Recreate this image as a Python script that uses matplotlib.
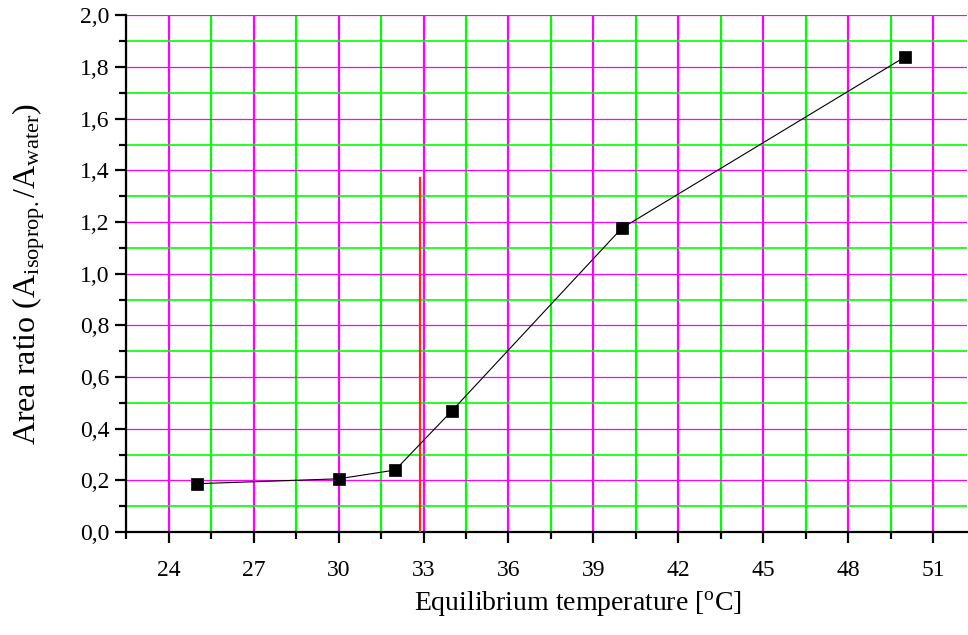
import matplotlib
matplotlib.use("Agg")
import matplotlib.pyplot as plt
from matplotlib.ticker import MultipleLocator, FuncFormatter

plt.rcParams['font.family'] = ['Liberation Serif', 'DejaVu Serif']
plt.rcParams['mathtext.fontset'] = 'custom'
plt.rcParams['mathtext.rm'] = 'Liberation Serif'
plt.rcParams['mathtext.it'] = 'Liberation Serif:italic'

temperature = [25, 30, 32, 34, 40, 50]
area_ratio = [0.187, 0.206, 0.24, 0.469, 1.176, 1.839]
marker_x = [32.88, 32.88]
marker_y = [0.0, 1.37]

fig = plt.figure(figsize=(9.68, 6.35), dpi=100)
ax = fig.add_axes([0.1305, 0.1622, 0.8685, 0.8134])

ax.set_xlim(22.5, 52.2)
ax.set_ylim(0.0, 2.0)

ax.xaxis.set_major_locator(MultipleLocator(3))
ax.xaxis.set_minor_locator(MultipleLocator(1.5))
ax.yaxis.set_major_locator(MultipleLocator(0.2))
ax.yaxis.set_minor_locator(MultipleLocator(0.1))
ax.yaxis.set_major_formatter(FuncFormatter(lambda v, p: f"{v:.1f}".replace('.', ',')))
ax.xaxis.set_major_formatter(FuncFormatter(lambda v, p: f"{int(round(v))}"))

ax.set_axisbelow(True)
ax.grid(which='major', axis='x', color='#FF00FF', lw=1.6)
ax.grid(which='minor', axis='x', color='#00FF00', lw=1.6)
ax.grid(which='major', axis='y', color='#FF00FF', lw=0.9)
ax.grid(which='minor', axis='y', color='#00FF00', lw=1.2)

ax.plot(marker_x, marker_y, color='#FF2A1A', lw=1.6, zorder=3)
ax.plot(temperature, area_ratio, color='black', lw=0.8, zorder=4)
ax.plot(temperature, area_ratio, ls='none', marker='s', ms=8, mfc='black',
        mec='black', mew=0.5, zorder=5)

for s in ['top', 'right']:
    ax.spines[s].set_visible(False)
for s in ['left', 'bottom']:
    ax.spines[s].set_linewidth(1.6)

ax.tick_params(which='major', direction='out', length=8, width=1.6,
               labelsize=17, pad=12)
ax.tick_params(which='minor', direction='out', length=5, width=1.6)
ax.tick_params(axis='y', which='major', pad=4)

ax.set_xlabel(r'Equilibrium temperature [$^{\mathrm{o}}$C]', fontsize=20)
ax.xaxis.set_label_coords(0.537, -0.11)
ax.set_ylabel(r'Area ratio (A$_{\mathrm{isoprop.}}$/A$_{\mathrm{water}}$)',
              fontsize=23)
ax.yaxis.set_label_coords(-0.094, 0.5)

fig.savefig('out.png', dpi=100)
